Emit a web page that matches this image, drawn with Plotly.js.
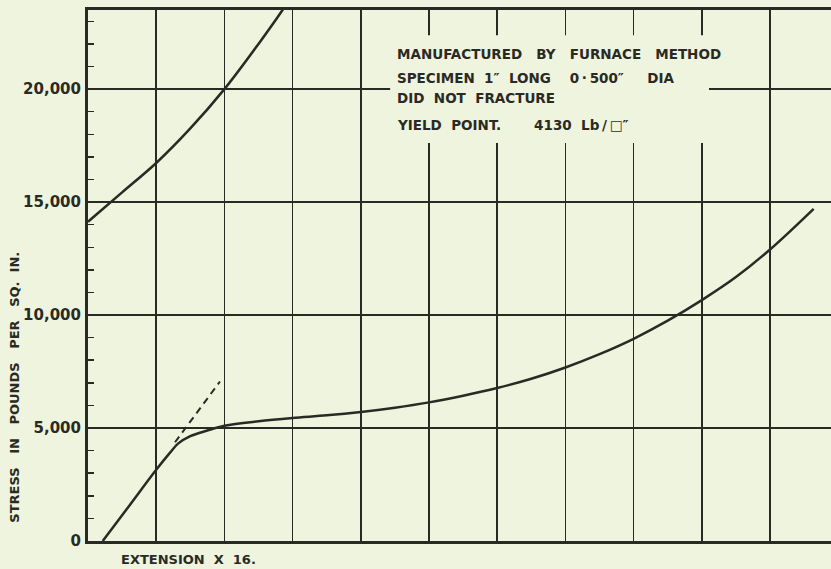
<!DOCTYPE html>
<html>
<head>
<meta charset="utf-8">
<script src="https://cdn.plot.ly/plotly-3.0.1.min.js"></script>
<style>
  html, body { margin: 0; padding: 0; background: #eef4de; }
  #chart { width: 831px; height: 569px; }
</style>
</head>
<body>
<div id="chart"></div>
<script>
// ---- data (extension in grid divisions, stress in lb per sq. in.) ----
const extensionLower = [0.216, 0.6, 1.0, 1.2, 1.32, 1.5, 1.75, 2.0, 2.5, 3.0, 3.5, 4.0, 4.5, 5.0, 5.5, 6.0, 6.5, 7.0, 7.5, 8.0, 8.5, 9.0, 9.5, 10.0, 10.64];
const stressLower    = [0, 1540, 3150, 3900, 4310, 4640, 4890, 5100, 5300, 5445, 5560, 5710, 5900, 6135, 6430, 6770, 7180, 7680, 8270, 8950, 9750, 10660, 11680, 12900, 14700];

const extensionUpper = [0, 0.5, 1.0, 1.5, 2.0, 2.5, 2.85, 2.9];
const stressUpper    = [14130, 15430, 16730, 18260, 20000, 22000, 23490, 23720];

const extensionElastic = [1.276, 1.935];
const stressElastic    = [4370, 7060];

const yTickVals = [0, 5000, 10000, 15000, 20000];
const yTickText = ['0', '5,000', '10,000', '15,000', '20,000'];

const S = '\u00A0';
const T = '\u2009';
const noteLines = [
  'MANUFACTURED' + S.repeat(3) + 'BY' + S.repeat(3) + 'FURNACE' + S.repeat(3) + 'METHOD',
  'SPECIMEN' + S.repeat(2) + '1\u2033' + S.repeat(2) + 'LONG' + S.repeat(4) + '0' + T + '\u00B7' + T + '500\u2033' + S.repeat(5) + 'DIA',
  'DID' + S.repeat(2) + 'NOT' + S.repeat(2) + 'FRACTURE',
  'YIELD' + S.repeat(2) + 'POINT.' + S.repeat(7) + '4130' + S.repeat(2) + 'Lb' + T + '/' + T + '\u25A1\u2033'
];
const yTitle = 'STRESS' + S.repeat(3) + 'IN' + S.repeat(3) + 'POUNDS' + S.repeat(3) + 'PER' + S.repeat(3) + 'SQ.' + S.repeat(2) + 'IN.';
const xTitle = 'EXTENSION' + S.repeat(2) + 'X' + S.repeat(2) + '16.';

// ---- style ----
const ink = '#2a2a24';
const bg = '#eef4de';
const noteFont = {family: 'DejaVu Sans', size: 13.5, color: ink, weight: 'bold'};
const labelFont = {family: 'DejaVu Sans', size: 13, color: ink, weight: 'bold'};

const traces = [
  {x: extensionLower, y: stressLower, mode: 'lines', line: {color: ink, width: 2.5, shape: 'spline', smoothing: 1}, hoverinfo: 'none'},
  {x: extensionUpper, y: stressUpper, mode: 'lines', line: {color: ink, width: 2.5, shape: 'spline', smoothing: 1}, hoverinfo: 'none'},
  {x: extensionElastic, y: stressElastic, mode: 'lines', line: {color: ink, width: 2, dash: '7px,5px'}, hoverinfo: 'none'}
];

const noteY = [21560, 20500, 19615, 18420];
const annotations = noteLines.map((t, i) => ({
  text: t, xref: 'x', yref: 'y', x: 4.50, y: noteY[i], xanchor: 'left', yanchor: 'middle',
  showarrow: false, font: noteFont
}));
annotations.push({
  text: yTitle, xref: 'paper', yref: 'paper', x: -0.1, y: 0.29, textangle: -90,
  xanchor: 'center', yanchor: 'middle', showarrow: false, font: labelFont
});
annotations.push({
  text: xTitle, xref: 'x', yref: 'paper', x: 1.48, y: -0.034,
  xanchor: 'center', yanchor: 'middle', showarrow: false, font: labelFont
});

const layout = {
  width: 831, height: 569,
  margin: {l: 88, r: 0, t: 10, b: 28},
  paper_bgcolor: bg, plot_bgcolor: bg,
  showlegend: false,
  xaxis: {
    range: [0, 10.894], tickmode: 'linear', tick0: 0, dtick: 1,
    showgrid: true, gridcolor: ink, gridwidth: 1.5,
    showticklabels: false, ticks: '', zeroline: false,
    showline: true, linecolor: ink, linewidth: 3, mirror: true
  },
  yaxis: {
    range: [0, 23500], tickmode: 'array', tickvals: yTickVals, ticktext: yTickText,
    showgrid: true, gridcolor: ink, gridwidth: 1.5,
    ticks: 'inside', ticklen: 6, tickwidth: 1.5, tickcolor: ink,
    minor: {tickmode: 'linear', tick0: 0, dtick: 1000, ticks: 'inside', ticklen: 6, tickwidth: 1.5, tickcolor: ink, showgrid: false},
    tickfont: {family: 'DejaVu Sans', size: 15, color: ink, weight: 'bold'},
    ticklabelstandoff: 1,
    zeroline: false, showline: true, linecolor: ink, linewidth: 3
  },
  shapes: [
    {type: 'rect', xref: 'x', yref: 'y', x0: 4.43, x1: 9.105, y0: 17613, y1: 22387,
     fillcolor: bg, line: {width: 0}, layer: 'above'}
  ],
  annotations: annotations
};

Plotly.newPlot('chart', traces, layout, {displayModeBar: false, staticPlot: true});
</script>
</body>
</html>
